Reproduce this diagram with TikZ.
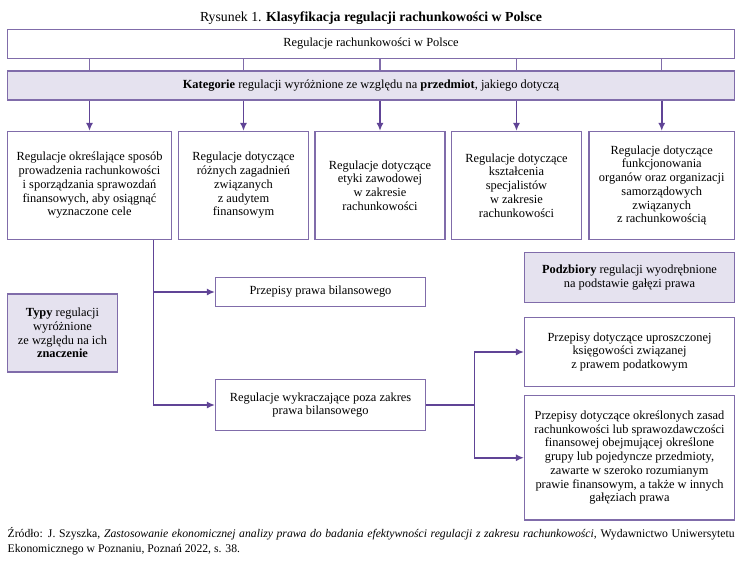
\documentclass[tikz,border=0pt]{standalone}
\usepackage{fontspec}
\setmainfont{Liberation Serif}
\usetikzlibrary{arrows.meta}

\definecolor{ramka}{RGB}{128,108,170}
\definecolor{lawenda}{RGB}{229,226,239}
\definecolor{strzalka}{RGB}{96,68,150}

\begin{document}
\begin{tikzpicture}[x=1pt, y=-1pt, >={Latex[length=8pt,width=7pt]}, font=\fontsize{12.4}{13.75}\selectfont]

\tikzstyle{box} = [draw=ramka, line width=1.1pt, fill=white, align=center, inner sep=2pt]
\tikzstyle{boxk} = [box, fill=lawenda]
\tikzstyle{conn} = [draw=strzalka, line width=1.6pt]

\useasboundingbox (0,0) rectangle (745,565);

% --- tytul
\node[font=\fontsize{13.8}{15}\selectfont] (tytul) at (371,18) {Rysunek 1. \textbf{Klasyfikacja regulacji rachunkowości w Polsce}};

% --- gora
\node[box, minimum width=727pt, minimum height=29pt] (top) at (371,44) {Regulacje rachunkowości w Polsce};
\node[boxk, minimum width=727pt, minimum height=29pt] (kat) at (371,85.5) {\textbf{Kategorie} regulacji wyróżnione ze względu na \textbf{przedmiot}, jakiego dotyczą};

% --- kategorie
\node[box, minimum width=164pt, minimum height=108pt] (b1) at (89.5,185.5) {Regulacje określające sposób\\prowadzenia rachunkowości\\i sporządzania sprawozdań\\finansowych, aby osiągnąć\\wyznaczone cele};
\node[box, minimum width=130pt, minimum height=108pt] (b2) at (243.5,185.5) {Regulacje dotyczące\\różnych zagadnień\\związanych\\z audytem\\finansowym};
\node[box, minimum width=130pt, minimum height=108pt] (b3) at (380,185.5) {Regulacje dotyczące\\etyki zawodowej\\w zakresie\\rachunkowości};
\node[box, minimum width=130pt, minimum height=108pt] (b4) at (516.5,185.5) {Regulacje dotyczące\\kształcenia\\specjalistów\\w zakresie\\rachunkowości};
\node[box, minimum width=145.5pt, minimum height=108pt] (b5) at (661.75,185.5) {Regulacje dotyczące\\funkcjonowania\\organów oraz organizacji\\samorządowych\\związanych\\z rachunkowością};

\foreach \b in {b1,b2,b3,b4,b5} {
  \draw[draw=ramka, line width=1.4pt] (top.south -| \b.north) -- (kat.north -| \b.north);
  \draw[conn, ->] (kat.south -| \b.north) -- (\b.north);
}

% --- typy
\node[boxk, minimum width=110pt, minimum height=78pt] (typy) at (62.5,333) {\textbf{Typy} regulacji\\wyróżnione\\ze względu na ich\\\textbf{znaczenie}};
\node[box, minimum width=210pt, minimum height=29pt] (bil) at (320.5,292) {Przepisy prawa bilansowego};
\node[box, minimum width=210pt, minimum height=51pt] (wykr) at (320.5,405) {Regulacje wykraczające poza zakres\\prawa bilansowego};

\coordinate (pion) at (153.3,0);
\draw[conn, ->] (b1.south -| pion) |- (bil.west);
\draw[conn, ->] (b1.south -| pion) |- (wykr.west);

% --- podzbiory
\node[boxk, minimum width=210pt, minimum height=50pt] (podz) at (629.5,277.5) {\textbf{Podzbiory} regulacji wyodrębnione\\na podstawie gałęzi prawa};
\node[box, minimum width=210pt, minimum height=69pt] (upr) at (629.5,352) {Przepisy dotyczące uproszczonej\\księgowości związanej\\z prawem podatkowym};
\node[box, minimum width=210pt, minimum height=124.5pt] (okr) at (629.5,457.75) {Przepisy dotyczące określonych zasad\\rachunkowości lub sprawozdawczości\\finansowej obejmującej określone\\grupy lub pojedyncze przedmioty,\\zawarte w szeroko rozumianym\\prawie finansowym, a także w innych\\gałęziach prawa};

\coordinate (widelec) at (474.3,405);
\draw[conn] (wykr.east) -- (widelec);
\draw[conn, ->] (widelec) |- (upr.west);
\draw[conn, ->] (widelec) |- (okr.west);

% --- zrodlo
\node[anchor=north west, text width=727pt, align=justify, inner sep=0pt, font=\fontsize{11.7}{15.5}\selectfont] (zrodlo) at (7.5,527) {Źródło: J. Szyszka, \textit{Zastosowanie ekonomicznej analizy prawa do badania efektywności regulacji z zakresu rachunkowości}, Wydawnictwo Uniwersytetu\linebreak Ekonomicznego w Poznaniu, Poznań 2022, s. 38.};

\end{tikzpicture}
\end{document}
